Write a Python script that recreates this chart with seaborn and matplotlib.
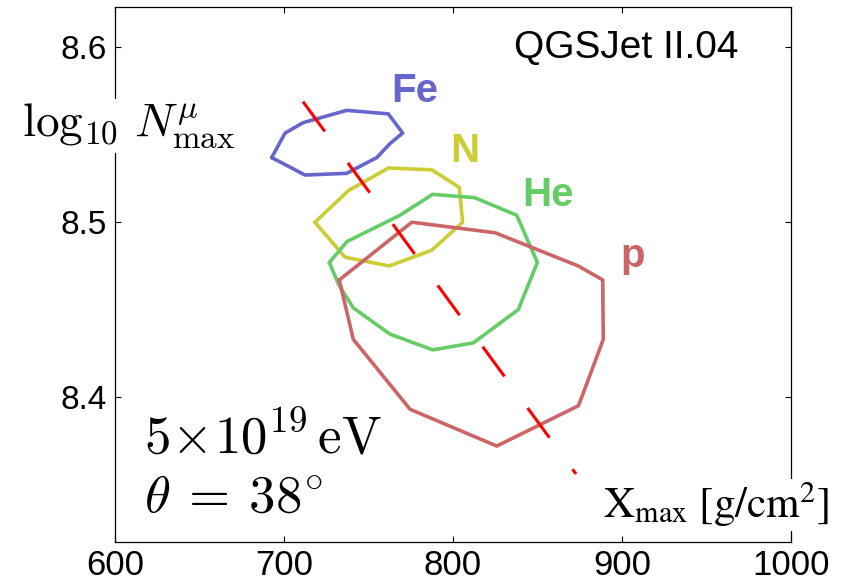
import pandas as pd
import numpy as np
import matplotlib
matplotlib.use("Agg")
import matplotlib.pyplot as plt
import seaborn as sns

# contour outlines (Xmax in g/cm2, log10 Nmu_max)
fe_x = [692.7, 700.6, 711.4, 737.1, 761.7, 770.2, 762.7, 754.9, 737.1, 712.4]
fe_y = [8.537, 8.551, 8.557, 8.564, 8.562, 8.551, 8.545, 8.537, 8.528, 8.527]

n_x = [718.3, 738.0, 761.7, 787.4, 803.7, 805.7, 787.4, 762.3, 736.1]
n_y = [8.500, 8.518, 8.531, 8.530, 8.520, 8.500, 8.484, 8.475, 8.480]

he_x = [726.8, 737.3, 768.6, 788.0, 813.0, 837.7, 849.9, 838.6, 812.0, 788.0, 762.7, 741.0, 732.5]
he_y = [8.477, 8.489, 8.504, 8.516, 8.514, 8.504, 8.477, 8.450, 8.431, 8.427, 8.436, 8.451, 8.464]

p_x = [732.7, 775.6, 824.9, 874.1, 888.6, 888.9, 876.2, 874.1, 825.9, 774.6, 741.0]
p_y = [8.467, 8.500, 8.494, 8.475, 8.467, 8.433, 8.400, 8.395, 8.372, 8.393, 8.433]

# red dashed axis through the contours
axis_x = [711.2, 872.8]
axis_y = [8.569, 8.356]

species = ["Fe", "N", "He", "p"]
colors = ["#6666cc", "#cccc33", "#66cc66", "#cc6666"]
label_x = [763.7, 798.2, 841.2, 899.2]
label_y = [8.5685, 8.5342, 8.5094, 8.4744]

x_ticks = [600, 700, 800, 900, 1000]
y_ticks = [8.4, 8.5, 8.6]

rows = []
for name, xs, ys in [("Fe", fe_x, fe_y), ("N", n_x, n_y), ("He", he_x, he_y), ("p", p_x, p_y)]:
    xs = xs + xs[:1]
    ys = ys + ys[:1]
    for i, (a, b) in enumerate(zip(xs, ys)):
        rows.append({"species": name, "order": i, "Xmax": a, "logN": b})
df = pd.DataFrame(rows)

sns.set_theme(style="white")
plt.rcParams["font.family"] = ["Liberation Sans", "DejaVu Sans"]
plt.rcParams["mathtext.fontset"] = "stix"
plt.rcParams["lines.scale_dashes"] = False

fig = plt.figure(figsize=(8.44, 5.82), dpi=100)
ax = fig.add_axes([0.1363, 0.0687, 0.8009, 0.9201])

sns.lineplot(data=df, x="Xmax", y="logN", hue="species", hue_order=species,
             palette=colors, sort=False, estimator=None, units="species",
             linewidth=2.6, legend=False, ax=ax)

ax.plot(axis_x, axis_y, color="#ff0000", linewidth=2.2, dashes=(26.6, 28.1), zorder=4)

for name, c, tx, ty in zip(species, colors, label_x, label_y):
    ax.text(tx, ty, name, color=c, fontsize=29, fontweight="bold",
            ha="left", va="baseline")

ax.set_xlim(600, 1000)
ax.set_ylim(8.3171, 8.6234)
ax.set_xticks(x_ticks)
ax.set_yticks(y_ticks)
ax.set_xticklabels([str(v) for v in x_ticks], fontsize=25, color="black")
ax.set_yticklabels([f"{v:.1f}" for v in y_ticks], fontsize=24, color="black")
ax.tick_params(axis="both", direction="in", length=4.5, width=0.8, color="black",
               labelcolor="black", top=True, right=True, bottom=True, left=True)
ax.tick_params(axis="x", pad=5)
ax.tick_params(axis="y", pad=6)
for s in ax.spines.values():
    s.set_color("black")
    s.set_linewidth(0.9)
ax.set_xlabel("")
ax.set_ylabel("")

ax.text(0.757, 0.922, "QGSJet II.04", transform=ax.transAxes, fontsize=28,
        ha="center", va="center", color="black")

ax.text(-0.1376, 0.758, r"$\log_{10}\,N^{\mu}_{\max}$", transform=ax.transAxes,
        fontsize=34, ha="left", va="baseline", color="black", zorder=10,
        math_fontfamily="cm",
        bbox=dict(facecolor="white", edgecolor="none", pad=2))

ax.text(0.0429, 0.1668, r"$5\!\times\!10^{19}\,\mathrm{eV}$", transform=ax.transAxes,
        fontsize=38, ha="left", va="baseline", color="black", math_fontfamily="cm")
ax.text(0.0429, 0.0566, r"$\theta\:=\:38^{\circ}$", transform=ax.transAxes,
        fontsize=38, ha="left", va="baseline", color="black", math_fontfamily="cm")

ax.text(0.7215, 0.0443, r"$\mathrm{X}_{\mathrm{max}}\ [\mathrm{g/cm}^{2}]$",
        transform=ax.transAxes, fontsize=31, ha="left", va="baseline",
        color="black", zorder=10,
        bbox=dict(facecolor="white", edgecolor="none", pad=1))

fig.savefig("out.png", dpi=100, facecolor="white")
